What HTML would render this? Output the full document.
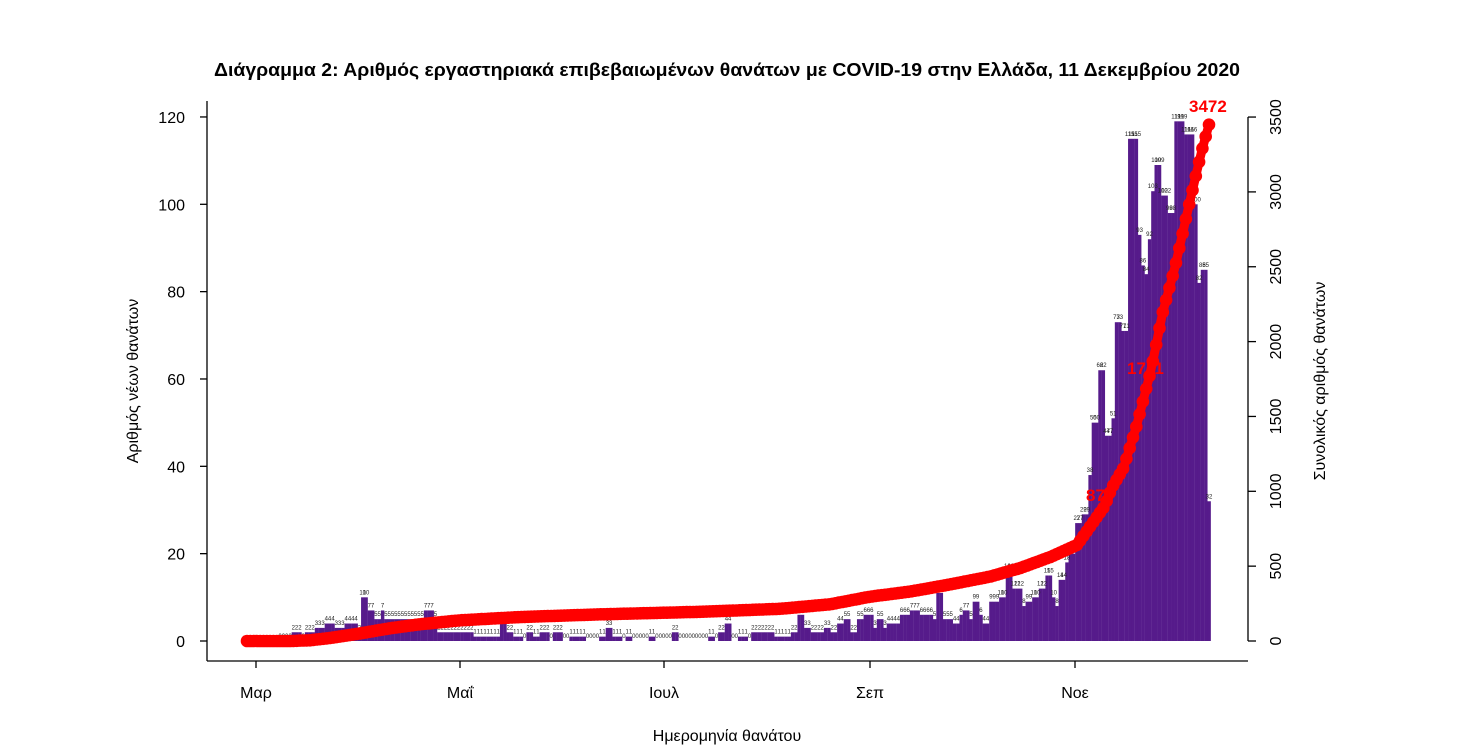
<!DOCTYPE html>
<html><head><meta charset="utf-8"><style>
html,body{margin:0;padding:0;background:#fff;}
svg{display:block;font-family:"Liberation Sans",sans-serif;}
</style></head><body>
<svg id="s" width="1464" height="756" xmlns="http://www.w3.org/2000/svg">
<text x="214" y="76" font-size="18" font-weight="bold" textLength="1026" lengthAdjust="spacingAndGlyphs">Διάγραμμα 2: Αριθμός εργαστηριακά επιβεβαιωμένων θανάτων με COVID-19 στην Ελλάδα, 11 Δεκεμβρίου 2020</text>
<g id="bars"></g>
<g id="lbl" font-size="6" fill="#222" text-anchor="middle"></g>
<g id="cum"></g>
<g stroke="#000" stroke-width="1.3" fill="none">
<line x1="207" y1="101" x2="207" y2="661"/>
<line x1="207" y1="661" x2="1248" y2="661"/>
<line x1="1248" y1="117" x2="1248" y2="641"/>
<g id="ticks"></g>
</g>
<g id="tl" font-size="16"></g>
<text x="727" y="741" text-anchor="middle" font-size="16">Ημερομηνία θανάτου</text>
<text transform="translate(138,381) rotate(-90)" text-anchor="middle" font-size="16">Αριθμός νέων θανάτων</text>
<text transform="translate(1325,381) rotate(-90)" text-anchor="middle" font-size="16">Συνολικός αριθμός θανάτων</text>
<g fill="#f00" font-weight="bold" font-size="17">
<text x="1086" y="501">870</text>
<text x="1127" y="374">1711</text>
<text x="1189" y="112">3472</text>
</g>
</svg>
<script>
const NS="http://www.w3.org/2000/svg";
function el(p,t,a,txt){const e=document.createElementNS(NS,t);for(const k in a)e.setAttribute(k,a[k]);if(txt!==undefined)e.textContent=txt;p.appendChild(e);return e;}
const N=292, v=new Array(N).fill(0);
function set(a,b,val){for(let d=a;d<=b;d++)v[d]=val;}
set(14,16,2);set(18,20,2);set(21,23,3);set(24,26,4);set(27,29,3);set(30,33,4);set(34,34,2);set(35,36,10);set(37,38,7);set(39,40,5);set(41,41,7);set(42,53,5);set(54,56,7);set(57,57,5);set(58,63,2);
set(64,68,2);set(69,76,1);set(77,78,4);set(79,80,2);set(81,81,1);
set(82,83,1);set(85,86,2);set(87,88,1);set(89,91,2);set(93,95,2);set(98,102,1);set(107,108,1);set(109,110,3);set(111,113,1);set(115,116,1);set(122,123,1);set(129,130,2);set(140,141,1);set(143,144,2);set(145,146,4);set(149,151,1);set(153,155,2);set(156,159,2);set(160,164,1);set(165,166,2);set(167,168,6);set(169,170,3);set(171,174,2);set(175,176,3);set(177,178,2);set(179,180,4);set(181,182,5);set(183,184,2);set(185,186,5);
const oct=[6,6,6,3,5,5,3,4,4,4,4,6,6,6,7,7,7,6,6,6,6,5,11,11,5,5,5,4,4,6,7,7,5,9,9,6,4,4,9,9,9,10,10,16,16,12,12,12,8,9,9,10,10,12,12,15,15];
oct.forEach((x,i)=>v[187+i]=x);
const nov=[10,8,14,14,18,20,20,27,27,29,29,38,50,50,62,62,47,47,51,73,73,71,71,115,115,115,93,86,84,92,103,109,109,102,102,98,98,119,119,119,116,116,116,100,82,85,85,32];
nov.forEach((x,i)=>v[244+i]=x);
const X=d=>247+d*3.306, Yl=val=>641-val*4.367, Yr=c=>641-c*0.1497;
const bars=document.getElementById('bars'), lbl=document.getElementById('lbl');
for(let d=0;d<N;d++){
 if(v[d]>0) el(bars,'rect',{x:(X(d)-1.65).toFixed(2),y:Yl(v[d]).toFixed(2),width:3.45,height:(v[d]*4.367).toFixed(2),fill:'#561b8b'});
 if(d>=10) el(lbl,'text',{x:X(d).toFixed(1),y:(Yl(v[d])-3).toFixed(1)},String(Math.round(v[d])));
}
let cp=[[247,0],[290,0],[310,5],[330,20],[350,40],[370,62],[390,85],[420,112],[460,138],[520,160],[600,178],[700,195],[780,215],[830,245],[870,296],[910,330],[947,374],[990,430],[1020,487],[1050,560],[1077,641],[1106,900],[1113.6,1023],[1126,1156],[1140,1443],[1155,1810],[1167,2191],[1180,2492],[1194,2886],[1208,3267],[1217,3472]];
cp=cp.map(([x,c])=>[x>1077?1077+(x-1077)*133/140:x,c]);
function cum(x){for(let i=1;i<cp.length;i++){if(x<=cp[i][0]){const a=cp[i-1],b=cp[i];return a[1]+(b[1]-a[1])*(x-a[0])/(b[0]-a[0]);}}return 3472;}
const cg=document.getElementById('cum');let pts=[];
for(let d=0;d<N;d++){const x=X(d);pts.push(x.toFixed(1)+','+Yr(cum(x)).toFixed(1));}
el(cg,'polyline',{points:pts.join(' '),fill:'none',stroke:'#f00','stroke-width':9,'stroke-linejoin':'round'});
for(let d=0;d<N;d++){const x=X(d);el(cg,'circle',{cx:x.toFixed(1),cy:Yr(cum(x)).toFixed(1),r:6.3,fill:'#f00'});}
const tk=document.getElementById('ticks'), tl=document.getElementById('tl');
for(let i=0;i<=6;i++){const y=Yl(i*20);el(tk,'line',{x1:200,y1:y,x2:207,y2:y});el(tl,'text',{x:185,y:y+6,'text-anchor':'end'},String(i*20));}
for(let i=0;i<=7;i++){const y=Yr(i*500);el(tk,'line',{x1:1248,y1:y,x2:1256,y2:y});el(tl,'text',{transform:`translate(${1281},${y}) rotate(-90)`,'text-anchor':'middle'},String(i*500));}
[[256,'Μαρ'],[460,'Μαΐ'],[664,'Ιουλ'],[870,'Σεπ'],[1075,'Νοε']].forEach(([x,t])=>{el(tk,'line',{x1:x,y1:661,x2:x,y2:668});el(tl,'text',{x:x,y:698,'text-anchor':'middle'},t);});
</script>
</body></html>
